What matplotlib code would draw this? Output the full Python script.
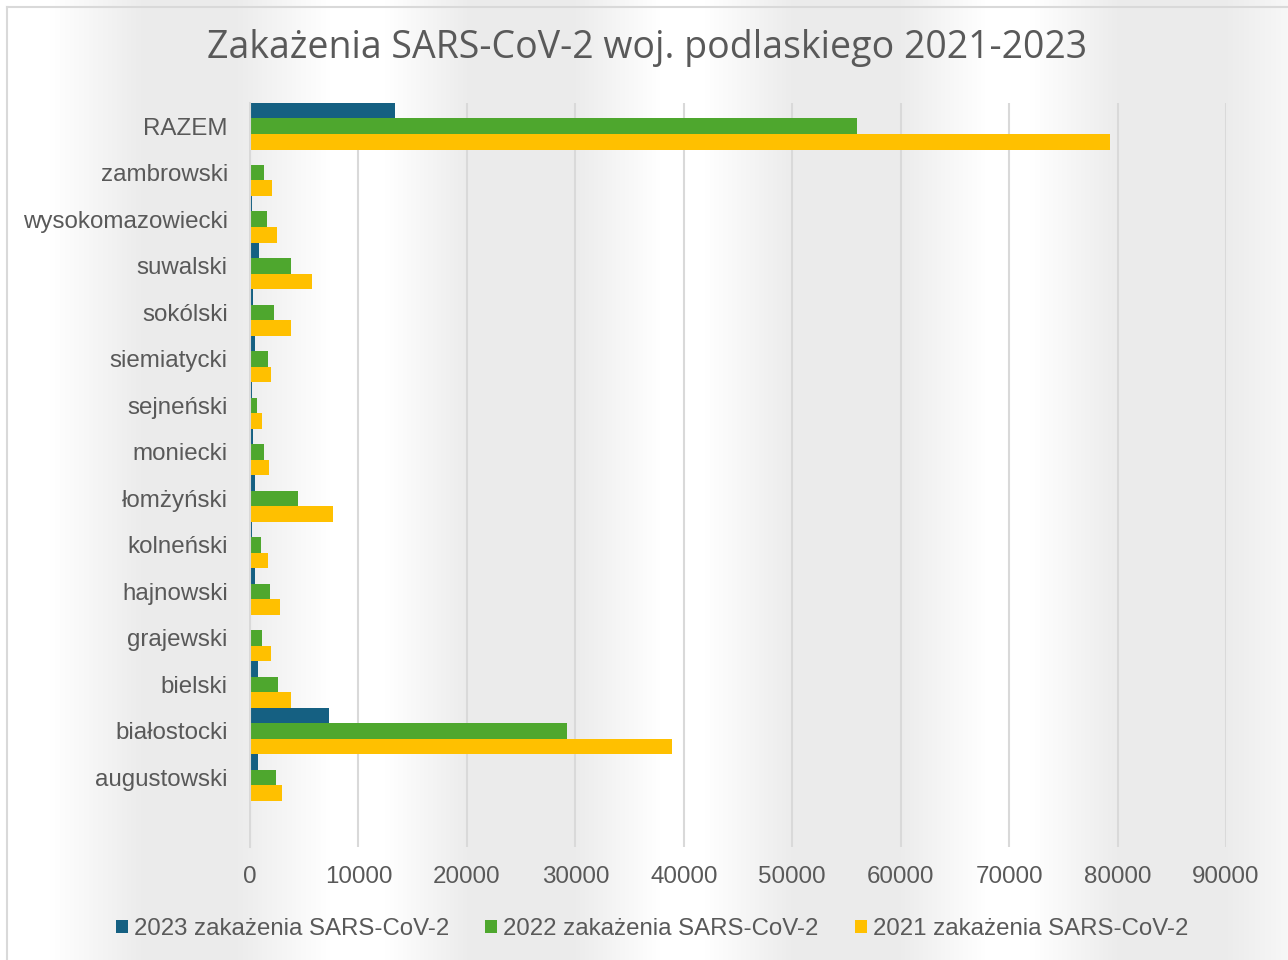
import numpy as np
import matplotlib
matplotlib.use('Agg')
import matplotlib.pyplot as plt
from matplotlib.lines import Line2D

plt.rcParams['font.family'] = ['Liberation Sans', 'DejaVu Sans']

powiaty = ['augustowski', 'białostocki', 'bielski', 'grajewski', 'hajnowski',
           'kolneński', 'łomżyński', 'moniecki', 'sejneński', 'siemiatycki',
           'sokólski', 'suwalski', 'wysokomazowiecki', 'zambrowski', 'RAZEM']
cases_2023 = [770, 7320, 740, 120, 430, 210, 430, 250, 210, 490, 310, 830, 200, 100, 13400]
cases_2022 = [2370, 29250, 2550, 1075, 1870, 985, 4400, 1320, 615, 1660, 2210, 3750, 1540, 1320, 56000]
cases_2021 = [2920, 38930, 3810, 1940, 2770, 1660, 7630, 1780, 1075, 1910, 3780, 5690, 2460, 2030, 79300]
series_labels = ['2023 zakażenia SARS-CoV-2', '2022 zakażenia SARS-CoV-2', '2021 zakażenia SARS-CoV-2']
colors = ['#156082', '#4EA72E', '#FFC000']
xticks = list(range(0, 90001, 10000))

W, H = 1288, 960
fig = plt.figure(figsize=(W / 100, H / 100), dpi=100)

# background: banded horizontal gradient
bg = fig.add_axes([0, 0, 1, 1], zorder=-10)
stops_x = [0, 50, 141, 237, 330, 385, 467, 575, 660, 705, 791, 900, 985, 1030, 1117, 1227, 1288]
stops_v = [1, 1, .925, .925, 1, 1, .925, .925, 1, 1, .925, .925, 1, 1, .925, .925, .97]
row = np.interp(np.arange(W), stops_x, stops_v)
img = np.repeat(row[None, :], 2, axis=0)
bg.imshow(np.dstack([img, img, img]), aspect='auto', extent=[0, 1, 0, 1])
bg.axis('off')

# outer frame (left/top edges visible)
fig.add_artist(Line2D([7 / W, 7 / W], [0, 1 - 7 / H], color='#d9d9d9', lw=1.5))
fig.add_artist(Line2D([7 / W, 1], [1 - 7 / H, 1 - 7 / H], color='#d9d9d9', lw=1.5))

ax = fig.add_axes([250 / W, 1 - 847 / H, (1226 - 250) / W, (847 - 103) / H])
ax.set_facecolor('none')

y = np.arange(len(powiaty))
h = 1 / 3
for i, (vals, c, lab) in enumerate(zip([cases_2023, cases_2022, cases_2021], colors, series_labels)):
    ax.barh(y + h * (1 - i), vals, height=h, color=c, label=lab, zorder=3)

ax.set_xlim(0, 90000)
ax.set_ylim(-1.5, len(powiaty) - 0.5)
ax.set_xticks(xticks)
ax.set_xticklabels([str(t) for t in xticks])
ax.set_yticks(y)
ax.set_yticklabels(powiaty)
ax.tick_params(axis='both', length=0, labelsize=17.4, labelcolor='#595959')
ax.tick_params(axis='x', pad=14)
ax.tick_params(axis='y', pad=16)
ax.grid(axis='x', color='#d9d9d9', lw=1.5, zorder=0)
for s in ['top', 'right', 'bottom']:
    ax.spines[s].set_visible(False)
ax.spines['left'].set_color('#d9d9d9')
ax.spines['left'].set_linewidth(1.5)
ax.spines['left'].set_zorder(4)

fig.text(0.502, 1 - 48 / H, 'Zakażenia SARS-CoV-2 woj. podlaskiego 2021-2023',
         ha='center', va='center', fontsize=27, color='#595959', family=['Open Sans', 'DejaVu Sans'])

fig.legend(loc='center', bbox_to_anchor=(652 / W, 1 - 929 / H), ncol=3, frameon=False,
           fontsize=17.3, labelcolor='#595959', handlelength=0.5, handleheight=0.5,
           handletextpad=0.25, columnspacing=1.5)

fig.savefig('out.png', dpi=100)
